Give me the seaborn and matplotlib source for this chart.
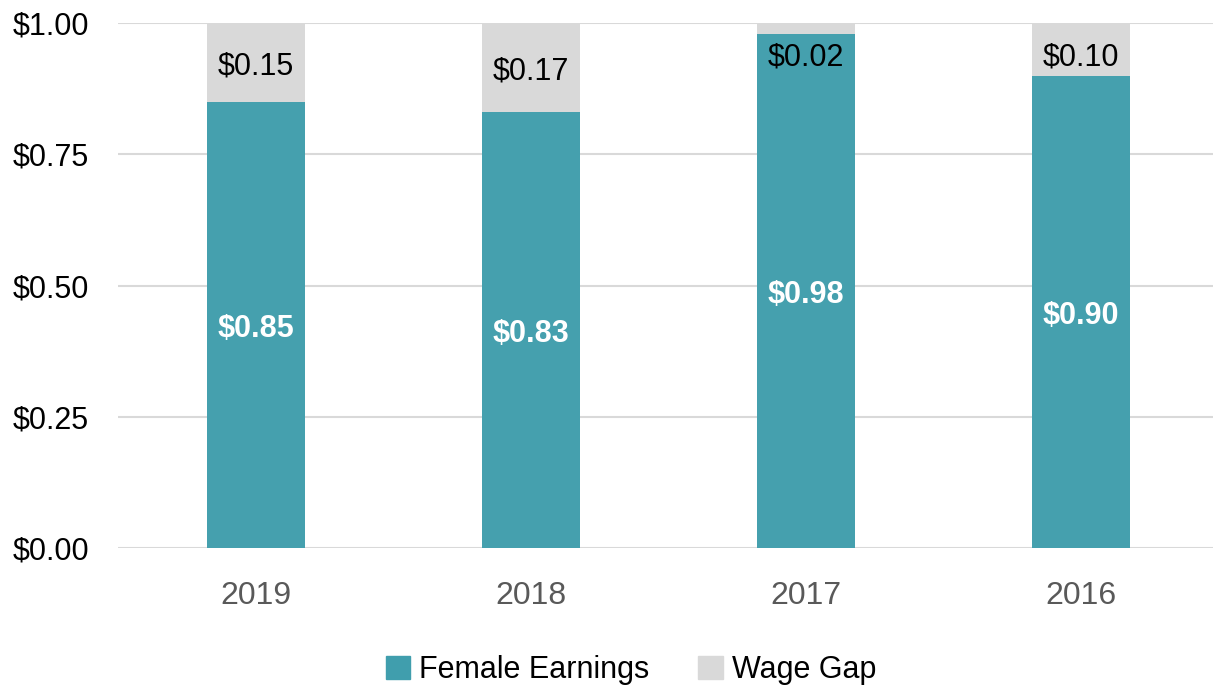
import numpy as np
import pandas as pd
import seaborn as sns
import matplotlib.pyplot as plt
from matplotlib.patches import Patch

# dados
years = ['2019', '2018', '2017', '2016']
female = [0.85, 0.83, 0.98, 0.90]
gap = [0.15, 0.17, 0.02, 0.10]

teal = '#409EAD'
grey = '#D9D9D9'

sns.set_theme(style='white')
plt.rcParams['font.family'] = ['Liberation Sans', 'DejaVu Sans']

df = pd.DataFrame({'Year': years, 'Female': female, 'Gap': gap})
df['Total'] = df['Female'] + df['Gap']

fig = plt.figure(figsize=(12.13, 6.92), dpi=100)
ax = fig.add_axes([118 / 1213, 1 - 548 / 692, 1 - 118 / 1213, 525 / 692])

# barra total (cinza) e depois a parte feminina por cima
sns.barplot(data=df, x='Year', y='Total', color=grey, width=0.356, saturation=1,
            linewidth=0, ax=ax, zorder=2)
sns.barplot(data=df, x='Year', y='Female', color=teal, width=0.356, saturation=1,
            linewidth=0, ax=ax, zorder=2, alpha=0.97)

ax.set_ylim(0, 1)
ax.set_xlim(-0.5, 3.48)
ax.set_yticks([0, 0.25, 0.5, 0.75, 1.0])
ax.set_yticklabels(['$%.2f' % v for v in [0, 0.25, 0.5, 0.75, 1.0]])
ax.yaxis.grid(True, color='#D9D9D9', linewidth=1.5)
ax.set_axisbelow(True)
for s in ax.spines.values():
    s.set_visible(False)
ax.tick_params(axis='y', labelsize=22, labelcolor='black', length=0, pad=21)
ax.tick_params(axis='x', labelsize=23, labelcolor='#595959', length=0, pad=24)
ax.set_xlabel('')
ax.set_ylabel('')

# rótulos
for i, (f, g) in enumerate(zip(female, gap)):
    ax.text(i, f / 2 - 0.008, '$%.2f' % f, ha='center', va='center', color='white',
            fontsize=22, fontweight='bold', zorder=5)
    yg = min(f + g / 2 - 0.008, 0.935)
    ax.text(i, yg, '$%.2f' % g, ha='center', va='center', color='black',
            fontsize=22, zorder=5)

handles = [Patch(color=teal, label='Female Earnings'), Patch(color=grey, label='Wage Gap')]
fig.legend(handles=handles, loc='center', bbox_to_anchor=(631 / 1213, 1 - 670 / 692),
           ncol=2, frameon=False, fontsize=22, handlelength=0.8, handleheight=0.8,
           handletextpad=0.3, columnspacing=1.6, labelcolor='black')

fig.savefig('out.png', dpi=100)
